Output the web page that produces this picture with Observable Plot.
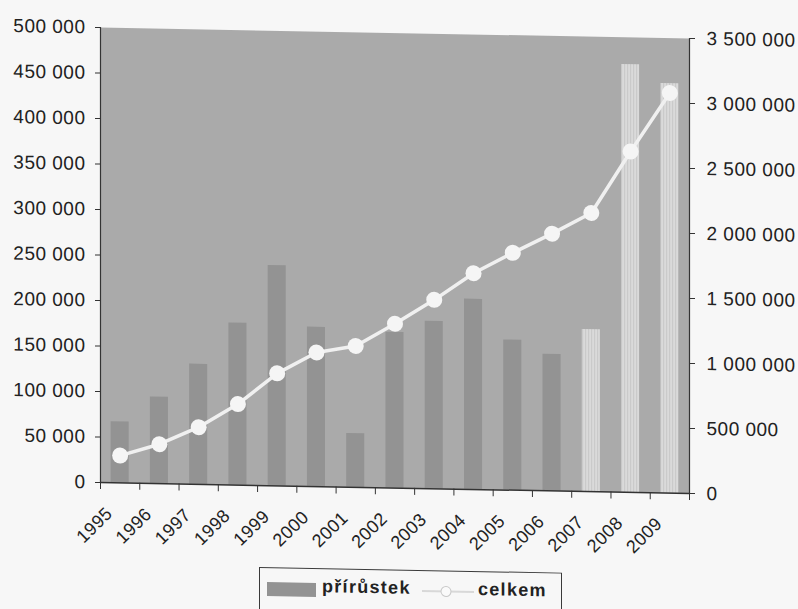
<!DOCTYPE html>
<html>
<head>
<meta charset="utf-8">
<script src="https://cdn.jsdelivr.net/npm/d3@7"></script>
<script src="https://cdn.jsdelivr.net/npm/@observablehq/plot@0.6"></script>
<style>
  body { margin: 0; background: #f7f7f7; font-family: "Liberation Sans", Arial, sans-serif; overflow: hidden; }
  #wrap { position: relative; width: 798px; height: 609px; transform-origin: 100px 0; transform: translateY(-5px) skewY(1.07deg); }
  #legend { position: absolute; left: 259px; top: 569px; width: 303px; height: 60px;
            border: 1.5px solid #3a3a3a; box-sizing: border-box; background: #f7f7f7; }
  #legend .sw { position: absolute; left: 7px; top: 14px; width: 49px; height: 14px; background: #939393; }
  #legend .t { position: absolute; top: 7px; font-size: 18px; font-weight: bold; letter-spacing: 1.3px; color: #222; }
  #legend svg { position: absolute; left: 162px; top: 12px; }
</style>
</head>
<body>
<div id="wrap">
  <div id="chart"></div>
  <div id="legend">
    <div class="sw"></div>
    <div class="t" style="left:62px">přírůstek</div>
    <svg width="52" height="16"><line x1="0" y1="8" x2="52" y2="8" stroke="#d8d8d8" stroke-width="2"/><circle cx="24" cy="8" r="5" fill="#fafafa" stroke="#c8c8c8" stroke-width="1"/></svg>
    <div class="t" style="left:218px">celkem</div>
  </div>
</div>
<script>
// Roky, roční přírůstek a kumulativní celkem
const years = [1995, 1996, 1997, 1998, 1999, 2000, 2001, 2002, 2003, 2004, 2005, 2006, 2007, 2008, 2009];
const prirustek = [67000, 95000, 132000, 178000, 242000, 175000, 59000, 171000, 184000, 209000, 165000, 150000, 178000, 470000, 450000];
const celkem = [210000, 303000, 440000, 623000, 865000, 1031000, 1087000, 1263000, 1453000, 1663000, 1826000, 1979000, 2144000, 2623000, 3078000];
// poslední tři roky jsou odhad
const odhad = [false, false, false, false, false, false, false, false, false, false, false, false, true, true, true];

const leftTicks = [0, 50000, 100000, 150000, 200000, 250000, 300000, 350000, 400000, 450000, 500000];
const rightTicks = [0, 500000, 1000000, 1500000, 2000000, 2500000, 3000000, 3500000];

// pravá osa se promítá do levé stupnice
const ratio = rightTicks[rightTicks.length - 1] / leftTicks[leftTicks.length - 1];

const data = years.map((y, i) => ({year: y, inc: prirustek[i], total: celkem[i], est: odhad[i]}));
const boundaries = [...years, years[years.length - 1] + 1];

const fmt = v => d3.format(",")(v).replace(/,/g, " ");
const font = "Liberation Sans, Arial, sans-serif";

const chart = Plot.plot({
  width: 798,
  height: 560,
  marginLeft: 100,
  marginRight: 109,
  marginTop: 32,
  marginBottom: 73,
  style: {background: "transparent", fontFamily: font, color: "#222", letterSpacing: "0.5px"},
  x: {type: "linear", domain: [boundaries[0], boundaries[boundaries.length - 1]]},
  y: {domain: [0, leftTicks[leftTicks.length - 1]]},
  marks: [
    Plot.frame({fill: "#aaaaaa", stroke: null}),
    Plot.rectY(data.filter(d => !d.est), {x1: d => d.year + 0.27, x2: d => d.year + 0.73, y: "inc", fill: "#939393"}),
    Plot.rectY(data.filter(d => d.est), {x1: d => d.year + 0.27, x2: d => d.year + 0.73, y: "inc", fill: "url(#hatch)"}),
    Plot.axisY({ticks: leftTicks, tickFormat: fmt, tickSize: 5, tickPadding: 10, fontSize: 19, label: null, stroke: "#333"}),
    Plot.axisY({anchor: "right", ticks: rightTicks.map(v => v / ratio), tickFormat: v => fmt(Math.round(v * ratio)),
                tickSize: 5, tickPadding: 12, fontSize: 19, label: null, stroke: "#333"}),
    Plot.ruleX([boundaries[0], boundaries[boundaries.length - 1]], {stroke: "#333", strokeWidth: 1.2}),
    Plot.axisX({ticks: boundaries, tickSize: 7, tickFormat: () => "", label: null, stroke: "#333"}),
    Plot.ruleY([0], {stroke: "#333", strokeWidth: 1.5}),
    Plot.text(years, {x: d => d, frameAnchor: "bottom", text: d => String(d), rotate: -45, textAnchor: "end",
                      dx: 13, dy: 32, fontSize: 18, fill: "#222"}),
    Plot.line(data, {x: d => d.year + 0.5, y: d => d.total / ratio, stroke: "#f0f0f0", strokeWidth: 3.5}),
    Plot.dot(data, {x: d => d.year + 0.5, y: d => d.total / ratio, r: 8, fill: "#f5f5f5", stroke: null})
  ]
});

// svislé šrafování pro odhadované roky
const defs = d3.select(chart).insert("defs", ":first-child");
const pat = defs.append("pattern").attr("id", "hatch").attr("patternUnits", "userSpaceOnUse")
  .attr("width", 3).attr("height", 10);
pat.append("rect").attr("width", 3).attr("height", 10).attr("fill", "#dadada");
pat.append("rect").attr("width", 1).attr("height", 10).attr("fill", "#c8c8c8");

document.getElementById("chart").append(chart);
</script>
</body>
</html>
